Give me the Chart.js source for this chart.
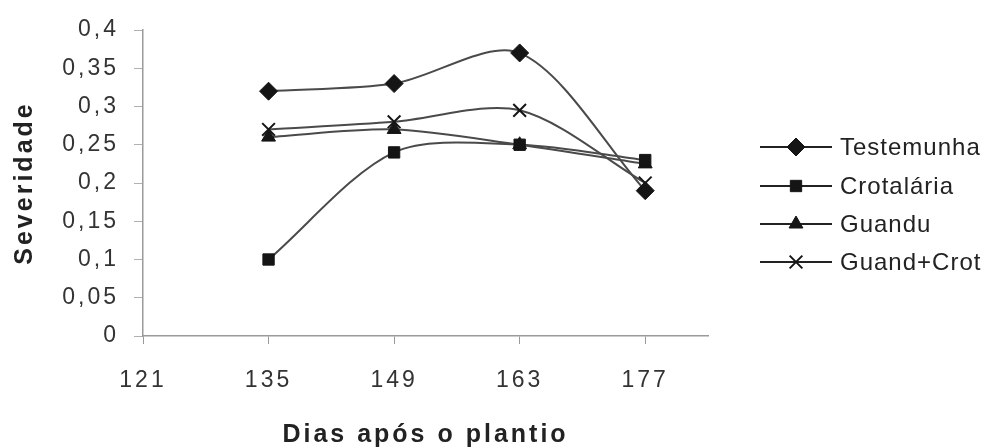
<!DOCTYPE html>
<html>
<head>
<meta charset="utf-8">
<script src="https://cdn.jsdelivr.net/npm/chart.js@4.4.1/dist/chart.umd.min.js"></script>
<style>
    html, body { margin: 0; padding: 0; background: #fff; }
    #wrap { width: 989px; height: 448px; }
</style>
</head>
<body>
<div id="wrap"><canvas id="sevChart"></canvas></div>
<script>
// dados
const dias = [135, 149, 163, 177];
const xTicks = [121, 135, 149, 163, 177];
const yTicks = [0, 0.05, 0.1, 0.15, 0.2, 0.25, 0.3, 0.35, 0.4];
const testemunha = [0.32, 0.33, 0.37, 0.19];
const crotalaria = [0.10, 0.24, 0.25, 0.23];
const guandu = [0.26, 0.27, 0.25, 0.225];
const guandCrot = [0.27, 0.28, 0.295, 0.20];

const lineColor = '#4a4a4a';
const markColor = '#151515';

function pts(values) {
    return dias.map(function(d, i) { return { x: d, y: values[i] }; });
}

function serie(label, values, style, radius) {
    return {
        label: label,
        data: pts(values),
        borderColor: lineColor,
        backgroundColor: markColor,
        pointBorderColor: markColor,
        pointBackgroundColor: markColor,
        borderWidth: 2,
        pointStyle: style,
        pointRadius: radius,
        pointBorderWidth: style === 'crossRot' ? 2 : 1,
        tension: 0.3
    };
}

const datasets = [
    serie('Testemunha', testemunha, 'rectRot', 9),
    serie('Crotalária', crotalaria, 'rect', 8),
    serie('Guandu', guandu, 'triangle', 8),
    serie('Guand+Crot', guandCrot, 'crossRot', 9)
];

// espaçamento das letras
const spacingPlugin = {
    id: 'spacing',
    beforeInit: function(chart) { chart.ctx.letterSpacing = '3px'; },
    beforeDraw: function(chart) { chart.ctx.letterSpacing = '3px'; }
};

// legenda com linha e marcador
const legendPlugin = {
    id: 'lineLegend',
    afterDraw: function(chart) {
        const ctx = chart.ctx;
        const rows = [147, 186, 224, 262];
        ctx.save();
        ctx.letterSpacing = '1px';
        chart.data.datasets.forEach(function(ds, i) {
            const y = rows[i];
            ctx.strokeStyle = '#222';
            ctx.lineWidth = 2;
            ctx.beginPath();
            ctx.moveTo(760, y);
            ctx.lineTo(832, y);
            ctx.stroke();
            ctx.fillStyle = markColor;
            ctx.strokeStyle = markColor;
            ctx.lineWidth = ds.pointBorderWidth;
            Chart.helpers.drawPoint(ctx, {
                pointStyle: ds.pointStyle,
                radius: ds.pointRadius,
                rotation: 0,
                borderWidth: ds.pointBorderWidth
            }, 796, y);
            ctx.fillStyle = '#222';
            ctx.font = '24px "Liberation Sans", Arial, sans-serif';
            ctx.textAlign = 'left';
            ctx.textBaseline = 'middle';
            ctx.fillText(ds.label, 840, y + 1);
        });
        ctx.restore();
    }
};

function createChart() {
    const ctx = document.getElementById('sevChart').getContext('2d');
    new Chart(ctx, {
        type: 'line',
        data: { datasets: datasets },
        plugins: [spacingPlugin, legendPlugin],
        options: {
            responsive: true,
            maintainAspectRatio: false,
            animation: false,
            layout: { padding: { top: 30, right: 281, left: 0, bottom: 0 } },
            plugins: {
                legend: { display: false },
                tooltip: { enabled: false }
            },
            scales: {
                x: {
                    type: 'linear',
                    min: 121,
                    max: 184,
                    afterBuildTicks: function(scale) {
                        scale.ticks = xTicks.map(function(v) { return { value: v }; });
                    },
                    afterFit: function(scale) { scale.height = 112; },
                    border: { display: true, color: '#9a9a9a', width: 1.5 },
                    grid: {
                        display: true,
                        drawOnChartArea: false,
                        drawTicks: true,
                        tickLength: 8,
                        color: '#9a9a9a'
                    },
                    ticks: {
                        padding: 23,
                        maxRotation: 0,
                        color: '#333',
                        font: { family: '"Liberation Sans", Arial, sans-serif', size: 23 }
                    },
                    title: {
                        display: true,
                        text: 'Dias após o plantio',
                        color: '#222',
                        padding: { top: 0, bottom: 0 },
                        font: { family: '"Liberation Sans", Arial, sans-serif', size: 25, weight: 'bold', lineHeight: 1 }
                    }
                },
                y: {
                    min: 0,
                    max: 0.4,
                    afterBuildTicks: function(scale) {
                        scale.ticks = yTicks.map(function(v) { return { value: v }; });
                    },
                    afterFit: function(scale) { scale.width = 143; },
                    border: { display: true, color: '#9a9a9a', width: 1.5 },
                    grid: {
                        display: true,
                        drawOnChartArea: false,
                        drawTicks: true,
                        tickLength: 9,
                        color: '#b0b0b0'
                    },
                    ticks: {
                        padding: 15,
                        color: '#333',
                        font: { family: '"Liberation Sans", Arial, sans-serif', size: 23 },
                        callback: function(value) {
                            return parseFloat(value.toFixed(2)).toString().replace('.', ',');
                        }
                    },
                    title: {
                        display: true,
                        text: 'Severidade',
                        color: '#222',
                        padding: { top: 10, bottom: 0 },
                        font: { family: '"Liberation Sans", Arial, sans-serif', size: 25, weight: 'bold', lineHeight: 1.2 }
                    }
                }
            }
        }
    });
}

document.addEventListener('DOMContentLoaded', function() {
    createChart();
});
</script>
</body>
</html>
